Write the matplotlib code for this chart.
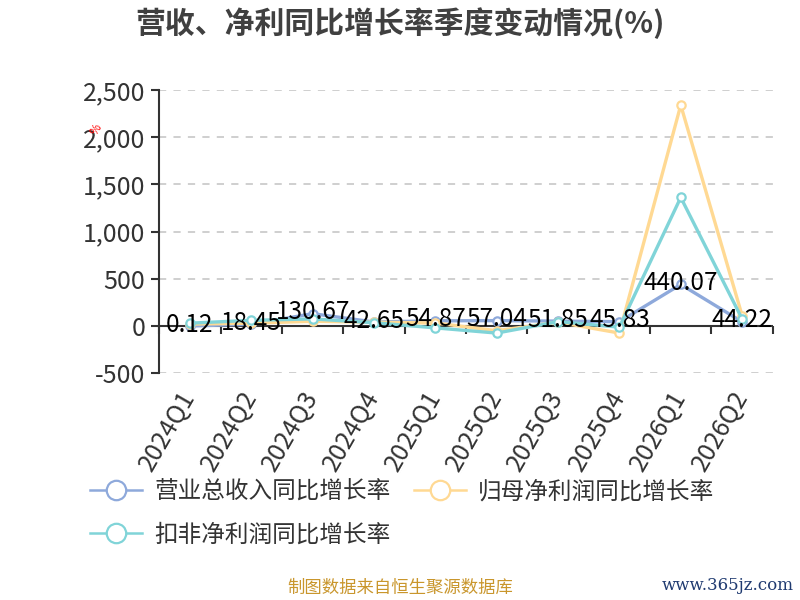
import numpy as np
import matplotlib.pyplot as plt
from matplotlib.lines import Line2D

plt.rcParams['font.family'] = ['Noto Sans CJK SC', 'DejaVu Sans']

# data
quarters = ['2024Q1', '2024Q2', '2024Q3', '2024Q4', '2025Q1',
            '2025Q2', '2025Q3', '2025Q4', '2026Q1', '2026Q2']
revenue_yoy = [0.12, 18.45, 130.67, 42.65, 54.87, 57.04, 51.85, 45.83, 440.07, 44.22]
parent_np_yoy = [20, 30, 50, 40, 32, -50, 40, -75, 2340, 110]
deducted_np_yoy = [30, 60, 75, 35, -20, -75, 46, -12, 1362, 75]

series_names = ['营业总收入同比增长率', '归母净利润同比增长率', '扣非净利润同比增长率']
colors = ['#8EA9DB', '#FFD993', '#80D4D8']

fig = plt.figure(figsize=(8, 6), dpi=100)
ax = fig.add_axes([0.199, 0.378, 0.767, 0.472])

x = np.arange(len(quarters))
for vals, name, c in zip([revenue_yoy, parent_np_yoy, deducted_np_yoy], series_names, colors):
    ax.plot(x, vals, color=c, linewidth=2.4, marker='o', markersize=6,
            markerfacecolor='white', markeredgecolor=c, markeredgewidth=1.6,
            label=name, zorder=3)

# labels on the revenue series only
for xi, v in zip(x, revenue_yoy):
    ax.text(xi, v + 15, f'{v:.2f}', ha='center', va='center', fontsize=17.5,
            color='black', zorder=5)

ymin, ymax = -500, 2500
ax.set_xlim(-0.5, len(quarters) - 0.5)
ax.set_ylim(ymin, ymax)
ax.set_yticks(np.arange(-500, 2501, 500))
ax.set_yticklabels([f'{t:,}' for t in range(-500, 2501, 500)])
ax.grid(axis='y', linestyle=(0, (4, 4)), color='#cccccc', linewidth=1.3)
ax.set_axisbelow(True)
ax.axhline(0, color='#333333', linewidth=1.5, zorder=2.5)

for s in ['top', 'right', 'bottom']:
    ax.spines[s].set_visible(False)
ax.spines['left'].set_color('#333333')
ax.spines['left'].set_linewidth(1.5)
ax.tick_params(axis='y', length=6, width=1.5, color='#333333', labelsize=18,
               labelcolor='#333333', pad=4)

ax.set_xticks(x)
ax.set_xticklabels(quarters, rotation=60, ha='right', va='center',
                   rotation_mode='anchor', fontsize=18, color='#333333')
ax.tick_params(axis='x', length=0, pad=14)

# category ticks sitting on the zero line
zero_frac = (0 - ymin) / (ymax - ymin)
sec = ax.secondary_xaxis(zero_frac)
sec.set_xticks(np.arange(len(quarters) + 1) - 0.5)
sec.set_xticklabels([])
sec.tick_params(axis='x', direction='out', length=6, width=1.5, color='#333333')
sec.spines['bottom'].set_visible(False)

ax.text(-0.103, 0.859, '%', transform=ax.transAxes, color='red', fontsize=8.5,
        rotation=60, ha='center', va='center')

fig.text(0.5, 0.962, '营收、净利同比增长率季度变动情况(%)', ha='center', va='center',
         fontsize=21.5, fontweight='bold', color='#404040')

proxies = [Line2D([], [], color=c, linewidth=1.8, marker='o', markersize=14,
                  markerfacecolor='white', markeredgecolor=c, markeredgewidth=1.6)
           for c in colors]
fig.legend(handles=proxies[:2], labels=series_names[:2], loc='center left',
           bbox_to_anchor=(0.113, 0.18), ncol=2, frameon=False, fontsize=17,
           handlelength=2.2, columnspacing=1.0, handletextpad=0.5,
           labelcolor='#333333', borderaxespad=0, borderpad=0)
fig.legend(handles=[proxies[2]], labels=[series_names[2]], loc='center left',
           bbox_to_anchor=(0.113, 0.108), frameon=False, fontsize=17,
           handlelength=2.2, handletextpad=0.5, labelcolor='#333333',
           borderaxespad=0, borderpad=0)

fig.text(0.5, 0.02, '制图数据来自恒生聚源数据库', ha='center', va='center',
         fontsize=12.5, color='#C9962C')
fig.text(0.992, 0.025, 'www.365jz.com', ha='right', va='center', fontsize=12,
         color='#1F3A70', family='DejaVu Serif')

fig.savefig('out.png', dpi=100)
